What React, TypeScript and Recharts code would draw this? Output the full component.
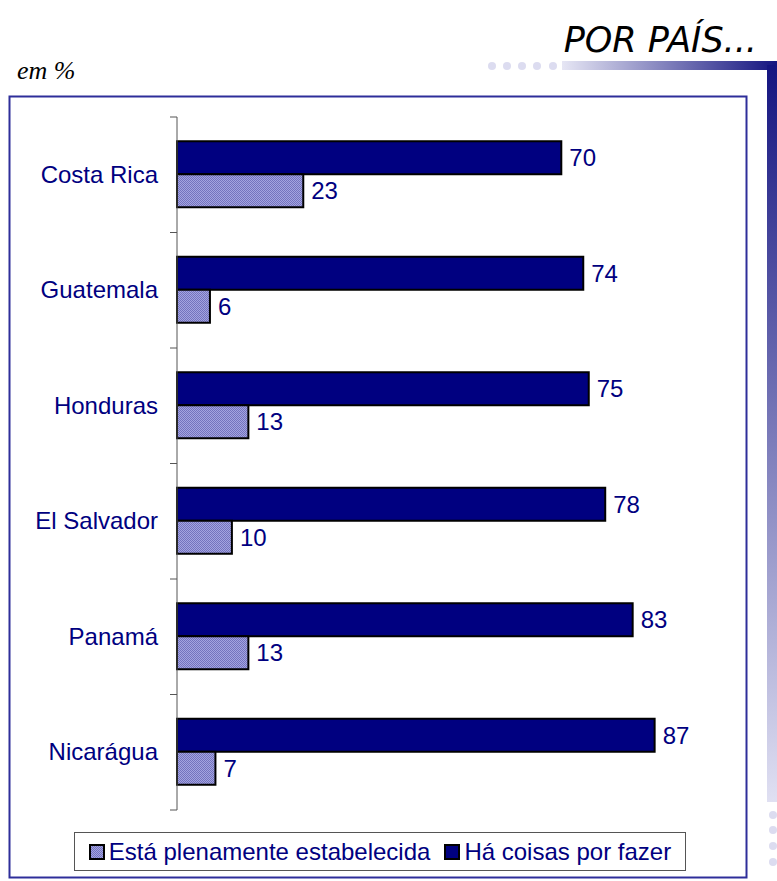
import { Bar, BarChart, LabelList, Legend, XAxis, YAxis } from 'recharts';

// #region Sample data
const countries = ['Costa Rica', 'Guatemala', 'Honduras', 'El Salvador', 'Panamá', 'Nicarágua'];
const established = [23, 6, 13, 10, 13, 7];
const thingsToDo = [70, 74, 75, 78, 83, 87];
const seriesNames = ['Está plenamente estabelecida', 'Há coisas por fazer'];
// #endregion

const data = countries.map((country, i) => ({
    country,
    estabelecida: established[i],
    porFazer: thingsToDo[i],
}));

const NAVY = '#000080';
const FONT = "'Liberation Sans', Arial, sans-serif";
const lightSwatchBg = 'repeating-conic-gradient(#7373be 0 25%, #a4a4e0 0 50%) 0 0 / 2px 2px';

const CountryTick = (props: any) => {
    const { x, y, payload, index, visibleTicksCount } = props;
    const half = payload.offset ?? 57.75;
    const axisX = x + 19;
    return (
        <g>
            <line x1={axisX - 7} x2={axisX} y1={y - half} y2={y - half} stroke="#555" />
            {index === visibleTicksCount - 1 && (
                <line x1={axisX - 7} x2={axisX} y1={y + half} y2={y + half} stroke="#555" />
            )}
            <text x={x} y={y} dy={8} textAnchor="end" fill={NAVY} fontSize={24} fontFamily={FONT}>
                {payload.value}
            </text>
        </g>
    );
};

const renderLegend = (props: any) => {
    // legend lists the light series first, as in the original
    const items = [...(props.payload || [])].sort(
        (a: any, b: any) => seriesNames.indexOf(a.value) - seriesNames.indexOf(b.value)
    );
    return (
        <div style={{
            boxSizing: 'border-box', width: 612, height: 39, border: '1.5px solid #555',
            display: 'flex', alignItems: 'center', justifyContent: 'center', background: '#fff',
        }}>
            {items.map((item: any, i: number) => (
                <div key={item.value} style={{ display: 'flex', alignItems: 'center', marginLeft: i ? 14 : 0 }}>
                    <span style={{
                        display: 'inline-block', width: 12, height: 12, border: '2px solid #000',
                        background: item.dataKey === 'estabelecida' ? lightSwatchBg : NAVY, marginRight: 4,
                    }} />
                    <span style={{ fontFamily: FONT, fontSize: 24, color: NAVY, lineHeight: '24px' }}>{item.value}</span>
                </div>
            ))}
        </div>
    );
};

export default function App() {
    return (
        <div style={{ position: 'relative', width: 777, height: 881, background: '#fff', overflow: 'hidden' }}>
            <style>{'body{margin:0}'}</style>
            <svg width={777} height={881} style={{ position: 'absolute', left: 0, top: 0 }}>
                <defs>
                    <linearGradient id="hbar" x1="0" y1="0" x2="1" y2="0">
                        <stop offset="0" stopColor="#e6e6f4" />
                        <stop offset="1" stopColor="#141480" />
                    </linearGradient>
                    <linearGradient id="vbar" x1="0" y1="0" x2="0" y2="1">
                        <stop offset="0" stopColor="#141480" />
                        <stop offset="1" stopColor="#e0e0f2" />
                    </linearGradient>
                </defs>
                <text x={757} y={52} textAnchor="end" fontFamily="'DejaVu Sans', Verdana, sans-serif" fontStyle="italic" fontSize={35} fill="#000">
                    POR PAÍS...
                </text>
                <text x={17} y={79} fontFamily="'Liberation Serif', 'Times New Roman', serif" fontStyle="italic" fontSize={26} fill="#000">
                    em %
                </text>
                {[492, 507, 522, 537, 553].map((cx) => (
                    <circle key={cx} cx={cx} cy={66} r={4} fill="#dcdcf0" />
                ))}
                <rect x={562} y={61} width={215} height={9} fill="url(#hbar)" />
                <rect x={767} y={65} width={10} height={737} fill="url(#vbar)" />
                {[815, 830, 846, 862].map((cy) => (
                    <circle key={cy} cx={773} cy={cy} r={4} fill="#dcdcf0" />
                ))}
                <rect x={9.5} y={96.5} width={737} height={781} fill="none" stroke="#2e2e9a" strokeWidth={2} />
            </svg>
            <div style={{ position: 'absolute', left: 0, top: 0 }}>
                <BarChart
                    width={777}
                    height={881}
                    data={data}
                    layout="vertical"
                    margin={{ top: 117, right: 51, bottom: 71, left: 17 }}
                    barCategoryGap="21%"
                    barGap={0}
                >
                    <defs>
                        <pattern id="lavDots" width="2" height="2" patternUnits="userSpaceOnUse">
                            <rect width="2" height="2" fill="#a4a4e0" />
                            <rect width="1" height="1" fill="#7373be" />
                            <rect x="1" y="1" width="1" height="1" fill="#7373be" />
                        </pattern>
                    </defs>
                    <XAxis type="number" domain={[0, 100]} hide />
                    <YAxis
                        type="category"
                        dataKey="country"
                        width={160}
                        axisLine={{ stroke: '#555' }}
                        tickLine={false}
                        tickSize={7}
                        tickMargin={12}
                        tick={<CountryTick />}
                        interval={0}
                    />
                    <Legend
                        layout="horizontal"
                        verticalAlign="middle"
                        align="center"
                        content={renderLegend}
                        wrapperStyle={{ top: 832, left: 74, width: 612, height: 39 }}
                    />
                    <Bar dataKey="porFazer" name={seriesNames[1]} fill={NAVY} stroke="#000" strokeWidth={2} isAnimationActive={false}>
                        <LabelList dataKey="porFazer" position="right" offset={8} fill={NAVY} fontSize={24} fontFamily={FONT} />
                    </Bar>
                    <Bar dataKey="estabelecida" name={seriesNames[0]} fill="url(#lavDots)" stroke="#000" strokeWidth={2} isAnimationActive={false}>
                        <LabelList dataKey="estabelecida" position="right" offset={8} fill={NAVY} fontSize={24} fontFamily={FONT} />
                    </Bar>
                </BarChart>
            </div>
        </div>
    );
}
